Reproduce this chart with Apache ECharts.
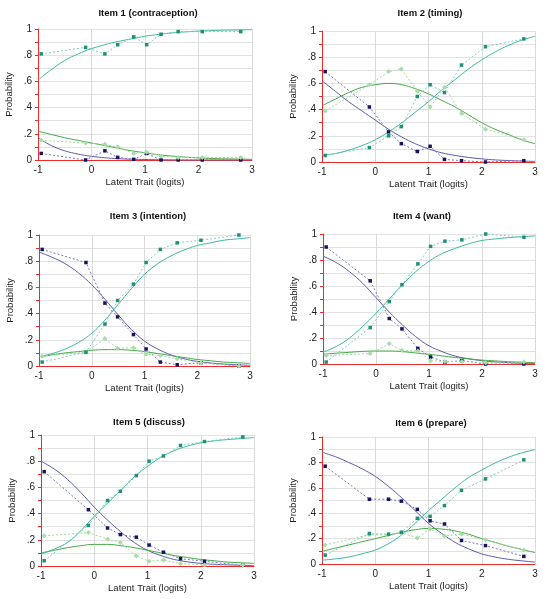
<!DOCTYPE html>
<html><head><meta charset="utf-8">
<script src="https://cdn.jsdelivr.net/npm/echarts@6/dist/echarts.min.js"></script>
<style>html,body{margin:0;padding:0;background:#fff}#c{width:546px;height:599px}</style>
</head><body><div id="c"></div>
<script>
// ---- data ----
const titles = ['Item 1 (contraception)','Item 2 (timing)','Item 3 (intention)','Item 4 (want)','Item 5 (discuss)','Item 6 (prepare)'];
const xTickValues = [-1,0,1,2,3];
const yTickLabels = ['0','.2','.4','.6','.8','1'];
const modelX = [-1,-0.75,-0.5,-0.25,0,0.25,0.5,0.75,1,1.25,1.5,1.75,2,2.25,2.5,2.75,3];
const obsX = [-0.94,-0.11,0.25,0.49,0.79,1.03,1.30,1.62,2.07,2.79];

// model curves (category 0 = blue, 1 = green, 2 = teal)
const item1Model0 = [0.17,0.11,0.07,0.045,0.028,0.017,0.01,0.006,0.004,0.002,0.001,0,0,0,0,0,0];
const item1Model1 = [0.22,0.195,0.17,0.15,0.13,0.11,0.09,0.07,0.055,0.04,0.03,0.022,0.016,0.012,0.009,0.007,0.005];
const item1Model2 = [0.61,0.69,0.76,0.81,0.85,0.88,0.905,0.925,0.945,0.958,0.97,0.978,0.984,0.988,0.991,0.993,0.995];
const item1Obs0 = [0.05,0.0,0.07,0.02,0.005,0.05,0.0,0.0,0.0,0.0];
const item1Obs1 = [0.15,0.13,0.12,0.10,0.05,0.06,0.03,0.02,0.02,0.02];
const item1Obs2 = [0.81,0.86,0.81,0.88,0.94,0.88,0.96,0.98,0.98,0.98];

const item2Model0 = [0.62,0.54,0.46,0.39,0.32,0.25,0.19,0.14,0.10,0.07,0.05,0.035,0.024,0.016,0.011,0.007,0.005];
const item2Model1 = [0.43,0.48,0.53,0.57,0.59,0.60,0.59,0.56,0.52,0.47,0.42,0.36,0.30,0.25,0.21,0.17,0.14];
const item2Model2 = [0.05,0.065,0.09,0.125,0.17,0.23,0.30,0.38,0.46,0.55,0.63,0.71,0.78,0.84,0.89,0.93,0.96];
const item2Obs0 = [0.69,0.42,0.23,0.14,0.08,0.12,0.02,0.01,0.0,0.01];
const item2Obs1 = [0.39,0.59,0.69,0.71,0.54,0.42,0.57,0.37,0.25,0.17];
const item2Obs2 = [0.05,0.11,0.20,0.27,0.50,0.59,0.53,0.74,0.88,0.94];

const item3Model0 = [0.87,0.83,0.78,0.71,0.62,0.51,0.39,0.28,0.19,0.13,0.085,0.055,0.035,0.023,0.015,0.009,0.005];
const item3Model1 = [0.07,0.085,0.10,0.11,0.12,0.125,0.125,0.12,0.11,0.095,0.08,0.065,0.05,0.04,0.03,0.025,0.02];
const item3Model2 = [0.07,0.095,0.13,0.18,0.25,0.35,0.47,0.59,0.70,0.78,0.84,0.885,0.92,0.94,0.96,0.97,0.98];
const item3Obs0 = [0.89,0.79,0.48,0.375,0.24,0.13,0.03,0.01,0.025,0.0];
const item3Obs1 = [0.075,0.105,0.21,0.135,0.14,0.09,0.08,0.055,0.025,0.0];
const item3Obs2 = [0.03,0.105,0.32,0.50,0.625,0.79,0.89,0.94,0.96,1.0];

const item4Model0 = [0.83,0.78,0.71,0.62,0.51,0.40,0.30,0.21,0.14,0.095,0.06,0.04,0.025,0.016,0.01,0.006,0.004];
const item4Model1 = [0.075,0.083,0.09,0.097,0.10,0.10,0.095,0.085,0.075,0.062,0.05,0.04,0.03,0.024,0.018,0.014,0.01];
const item4Model2 = [0.09,0.135,0.20,0.29,0.39,0.50,0.61,0.71,0.79,0.85,0.89,0.925,0.95,0.962,0.972,0.979,0.985];
const item4Obs0 = [0.90,0.64,0.35,0.27,0.12,0.054,0.015,0.026,0.0,0.0];
const item4Obs1 = [0.065,0.08,0.155,0.105,0.10,0.025,0.02,0.02,0.01,0.015];
const item4Obs2 = [0.015,0.28,0.48,0.61,0.77,0.905,0.945,0.955,1.0,0.975];

const item5Model0 = [0.80,0.74,0.66,0.56,0.45,0.35,0.26,0.18,0.12,0.08,0.05,0.032,0.02,0.013,0.009,0.005,0.003];
const item5Model1 = [0.10,0.12,0.14,0.155,0.165,0.165,0.155,0.14,0.12,0.10,0.08,0.065,0.05,0.04,0.03,0.025,0.02];
const item5Model2 = [0.09,0.13,0.18,0.27,0.38,0.48,0.58,0.68,0.76,0.83,0.88,0.915,0.94,0.955,0.965,0.973,0.98];
const item5Obs0 = [0.72,0.43,0.29,0.24,0.22,0.16,0.105,0.056,0.036,0.005];
const item5Obs1 = [0.23,0.255,0.205,0.18,0.077,0.036,0.046,0.018,0.008,0.005];
const item5Obs2 = [0.04,0.31,0.50,0.57,0.69,0.80,0.84,0.92,0.95,0.985];

const item6Model0 = [0.88,0.845,0.80,0.75,0.69,0.61,0.52,0.42,0.32,0.24,0.17,0.12,0.08,0.055,0.037,0.025,0.015];
const item6Model1 = [0.10,0.125,0.15,0.175,0.20,0.225,0.25,0.27,0.28,0.275,0.26,0.235,0.20,0.17,0.14,0.115,0.09];
const item6Model2 = [0.03,0.04,0.055,0.08,0.11,0.16,0.23,0.32,0.42,0.51,0.60,0.68,0.74,0.795,0.84,0.875,0.90];
const item6Obs0 = [0.77,0.51,0.51,0.495,0.43,0.34,0.315,0.185,0.145,0.06];
const item6Obs1 = [0.15,0.23,0.23,0.245,0.205,0.275,0.22,0.235,0.19,0.11];
const item6Obs2 = [0.07,0.24,0.235,0.25,0.36,0.375,0.46,0.58,0.67,0.82];

// ---- layout / style ----
const models = [
  [item1Model0,item1Model1,item1Model2],[item2Model0,item2Model1,item2Model2],
  [item3Model0,item3Model1,item3Model2],[item4Model0,item4Model1,item4Model2],
  [item5Model0,item5Model1,item5Model2],[item6Model0,item6Model1,item6Model2]];
const observed = [
  [item1Obs0,item1Obs1,item1Obs2],[item2Obs0,item2Obs1,item2Obs2],
  [item3Obs0,item3Obs1,item3Obs2],[item4Obs0,item4Obs1,item4Obs2],
  [item5Obs0,item5Obs1,item5Obs2],[item6Obs0,item6Obs1,item6Obs2]];
const grids = [
  {left:38,top:29,width:214,height:131},
  {left:322,top:31,width:213,height:131},
  {left:39,top:235,width:211,height:131},
  {left:323,top:234,width:212,height:130},
  {left:41,top:435,width:213,height:131},
  {left:322,top:437,width:213,height:127}];
const titlePos = [{x:143,y:3},{x:425,y:3},{x:143,y:206},{x:417,y:206},{x:144,y:412},{x:426,y:413}];
const modelColors = ['#5c5caa','#45a845','#3fb9a2'];
const obsLineColors = ['#7878c0','#a0d8a0','#7fcfbf'];
const obsMarkColors = ['#141460','#a8dca8','#1f8f78'];
const obsSymbols = ['rect','diamond','rect'];
const font = 'Liberation Sans, Arial, sans-serif';

const option = {animation:false, backgroundColor:'#fff',
  title:[], grid:[], xAxis:[], yAxis:[], series:[]};

for (let p=0;p<6;p++){
  const g = grids[p];
  option.grid.push({left:g.left,top:g.top,width:g.width,height:g.height,containLabel:false});
  option.title.push({text:titles[p], left:titlePos[p].x, top:titlePos[p].y, textAlign:'center',
    textStyle:{fontFamily:font,fontSize:9.5,fontWeight:'bold',color:'#111'}});
  option.xAxis.push({type:'value',gridIndex:p,min:xTickValues[0],max:xTickValues[xTickValues.length-1],interval:1,
    name:'Latent Trait (logits)',nameLocation:'middle',nameGap:17,
    nameTextStyle:{fontFamily:font,fontSize:9.5,color:'#222'},
    axisLine:{onZero:false,lineStyle:{color:'#ee2a2a',width:1}},
    axisTick:{show:false},
    axisLabel:{fontFamily:font,fontSize:10,color:'#222',margin:5},
    splitLine:{show:true,lineStyle:{color:'#dadada',width:1}}});
  option.yAxis.push({type:'value',gridIndex:p,min:0,max:1,interval:0.1,
    name:'Probability',nameLocation:'middle',nameGap:24,
    nameTextStyle:{fontFamily:font,fontSize:9.5,color:'#222'},
    axisLine:{show:true,onZero:false,lineStyle:{color:'#ee2a2a',width:1}},
    axisTick:{show:true,length:3,lineStyle:{color:'#ee2a2a'}},
    axisLabel:{fontFamily:font,fontSize:10,color:'#222',margin:6,
      formatter:v=>{const k=Math.round(v*10); return k%2?'':yTickLabels[k/2];}},
    splitLine:{show:true,lineStyle:{color:'#e2e2e2',width:1}}});
  for (let c=0;c<3;c++){
    option.series.push({type:'line',xAxisIndex:p,yAxisIndex:p,smooth:0.4,showSymbol:false,
      data:modelX.map((x,i)=>[x,models[p][c][i]]),
      lineStyle:{color:modelColors[c],width:1},itemStyle:{color:modelColors[c]},z:3});
  }
  for (let c=0;c<3;c++){
    option.series.push({type:'line',xAxisIndex:p,yAxisIndex:p,
      data:obsX.map((x,i)=>[x,observed[p][c][i]]),
      symbol:obsSymbols[c],symbolSize:c===1?5:3.5,
      lineStyle:{color:obsLineColors[c],width:1,type:[2,2]},
      itemStyle:{color:obsMarkColors[c]},z:4});
  }
}
echarts.init(document.getElementById('c'),null,{renderer:'canvas'}).setOption(option);
</script></body></html>
